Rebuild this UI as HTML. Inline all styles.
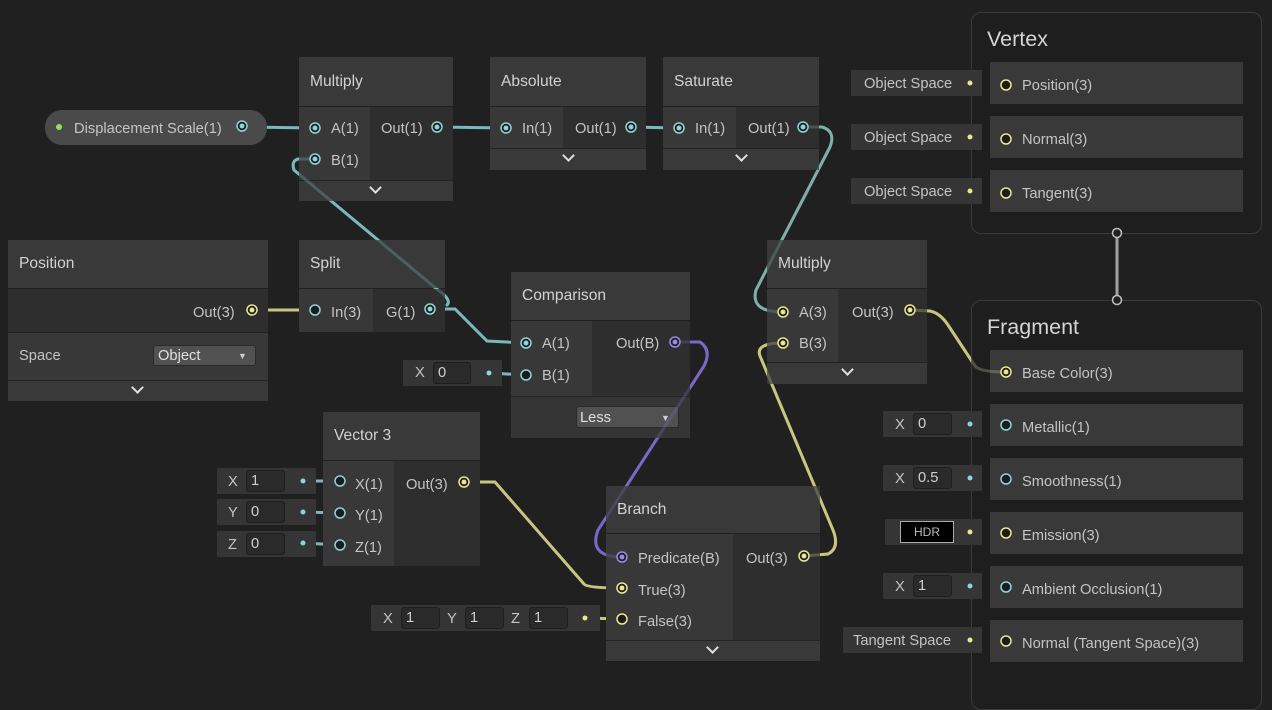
<!DOCTYPE html>
<html><head><meta charset="utf-8"><style>
*{box-sizing:border-box;margin:0;padding:0}
body{width:1272px;height:692px;background:#202020;overflow:hidden;position:relative;font-family:"Liberation Sans",sans-serif;font-size:14.7px;color:#c4c4c4}
.a{position:absolute}
.hd{position:absolute;background:#393939;font-size:15.6px;color:#d2d2d2;padding-left:11px;display:flex;align-items:center}
.in{position:absolute;background:#383838}
.out{position:absolute;background:#2e2e2e}
.ft{position:absolute;background:#393939;border-top:1px solid #232323}
.t{position:absolute;white-space:nowrap;margin-top:2px}
.chev{position:absolute;width:9px;height:9px;border-right:2px solid #e0e0e0;border-bottom:2px solid #e0e0e0;transform:rotate(45deg)}
.il{position:absolute;background:#353535}
.fld{position:absolute;background:#2a2a2a;border:1px solid #1e1e1e;border-radius:3px;padding-left:4px;line-height:21px;color:#d0d0d0}
.slot{position:absolute;background:#393939;left:990px;width:253px;height:42px}
.ctn{position:absolute;border:1px solid #3a3a3a;border-radius:10px;background:#1e1e1e}
</style></head><body>

<svg class="a" style="left:0;top:0" width="1272" height="692" fill="none" stroke-width="3" stroke-linecap="round">
<g stroke="#7ab8bc">
<path d="M242 127 L315 128"/>
<path d="M315 159 L298 159 Q291 161 294 170 L438 290 Q452 300 447 305"/>
<path d="M430 309 L455 309 L487 341 L526 343"/>
<path d="M437 127 L506 128"/>
<path d="M631 127 L679 128"/>
<path d="M489 373 L526 375"/>
<path d="M303 481 L340 481"/><path d="M303 512 L340 513"/><path d="M303 543 L340 545"/>
<path d="M970 424 L1006 425"/><path d="M970 478 L1006 479"/><path d="M970 586 L1006 587"/>
</g>
<path d="M803 127 L822 127 Q836 131 830 147 L756 290 Q750 312 783 312" stroke="#7fb0a8"/>
<g stroke="#c6c680">
<path d="M252 310 L315 310"/>
<path d="M464 482 L495 482 L584 584 Q587 588 622 588"/>
<path d="M585 618 L622 619"/>
<path d="M804 556 L828 554 Q840 548 833 530 L760 356 Q755 343 783 343"/>
<path d="M910 310 L930 311 Q940 313 948 325 L975 366 Q980 372 1006 372"/>
<path d="M970 83 L1006 85"/><path d="M970 137 L1006 139"/><path d="M970 191 L1006 193"/>
<path d="M970 532 L1006 533"/><path d="M970 640 L1006 641"/>
</g>
<path d="M675 342 L700 342 Q712 350 704 366 L598 530 Q588 557 622 557" stroke="#7b68c8"/>
<path d="M1117 233 L1117 300" stroke="#a0a0a0"/>
</svg>

<div class="a" style="left:45px;top:110px;width:222px;height:35px;border-radius:17px;background:#4a4a4a"></div>
<div class="t" style="left:74px;top:119px">Displacement Scale(1)</div>

<div class="hd" style="left:299px;top:57px;width:154px;height:49px">Multiply</div>
<div class="in" style="left:299px;top:107px;width:71px;height:73px"></div>
<div class="out" style="left:370px;top:107px;width:83px;height:73px"></div>
<div class="ft" style="left:299px;top:180px;width:154px;height:21px"></div>
<div class="chev" style="left:371px;top:183px"></div>
<div class="t" style="left:331px;top:119px">A(1)</div><div class="t" style="left:331px;top:151px">B(1)</div>
<div class="t" style="left:381px;top:119px">Out(1)</div>

<div class="hd" style="left:490px;top:57px;width:156px;height:49px">Absolute</div>
<div class="in" style="left:490px;top:107px;width:73px;height:41px"></div>
<div class="out" style="left:563px;top:107px;width:83px;height:41px"></div>
<div class="ft" style="left:490px;top:148px;width:156px;height:22px"></div>
<div class="chev" style="left:564px;top:151px"></div>
<div class="t" style="left:522px;top:119px">In(1)</div><div class="t" style="left:575px;top:119px">Out(1)</div>

<div class="hd" style="left:663px;top:57px;width:156px;height:49px">Saturate</div>
<div class="in" style="left:663px;top:107px;width:73px;height:41px"></div>
<div class="out" style="left:736px;top:107px;width:83px;height:41px"></div>
<div class="ft" style="left:663px;top:148px;width:156px;height:22px"></div>
<div class="chev" style="left:737px;top:151px"></div>
<div class="t" style="left:695px;top:119px">In(1)</div><div class="t" style="left:748px;top:119px">Out(1)</div>

<div class="hd" style="left:8px;top:240px;width:260px;height:48px">Position</div>
<div class="out" style="left:8px;top:289px;width:260px;height:43px"></div>
<div class="in" style="left:8px;top:333px;width:260px;height:47px"></div>
<div class="ft" style="left:8px;top:380px;width:260px;height:21px"></div>
<div class="chev" style="left:133px;top:383px"></div>
<div class="t" style="left:193px;top:303px">Out(3)</div>
<div class="t" style="left:19px;top:346px">Space</div>
<div class="a" style="left:153px;top:345px;width:103px;height:21px;background:#515151;border-radius:3px;border:1px solid #2a2a2a"></div>
<div class="t" style="left:158px;top:346px;color:#e0e0e0">Object</div>
<div class="t" style="left:238px;top:349px;font-size:9px;color:#ccc">▼</div>

<div class="hd" style="left:299px;top:240px;width:146px;height:48px">Split</div>
<div class="in" style="left:299px;top:289px;width:74px;height:43px"></div>
<div class="out" style="left:373px;top:289px;width:72px;height:43px"></div>
<div class="t" style="left:331px;top:303px">In(3)</div><div class="t" style="left:386px;top:303px">G(1)</div>

<div class="hd" style="left:511px;top:272px;width:179px;height:48px">Comparison</div>
<div class="in" style="left:511px;top:321px;width:81px;height:75px"></div>
<div class="out" style="left:592px;top:321px;width:98px;height:75px"></div>
<div class="ft" style="left:511px;top:396px;width:179px;height:42px;background:#353535"></div>
<div class="a" style="left:576px;top:406px;width:103px;height:22px;background:#515151;border-radius:3px;border:1px solid #2a2a2a"></div>
<div class="t" style="left:580px;top:408px;color:#e0e0e0">Less</div>
<div class="t" style="left:661px;top:411px;font-size:9px;color:#ccc">▼</div>
<div class="t" style="left:542px;top:334px">A(1)</div><div class="t" style="left:542px;top:366px">B(1)</div>
<div class="t" style="left:616px;top:334px">Out(B)</div>
<div class="il" style="left:403px;top:360px;width:99px;height:26px"></div>
<div class="t" style="left:415px;top:363px">X</div>
<div class="fld" style="left:433px;top:362px;width:38px;height:22px">0</div>

<div class="hd" style="left:323px;top:412px;width:157px;height:48px">Vector 3</div>
<div class="in" style="left:323px;top:461px;width:71px;height:105px"></div>
<div class="out" style="left:394px;top:461px;width:86px;height:105px"></div>
<div class="t" style="left:355px;top:475px">X(1)</div><div class="t" style="left:355px;top:506px">Y(1)</div><div class="t" style="left:355px;top:538px">Z(1)</div>
<div class="t" style="left:406px;top:475px">Out(3)</div>
<div class="il" style="left:217px;top:468px;width:99px;height:26px"></div>
<div class="il" style="left:217px;top:499px;width:99px;height:26px"></div>
<div class="il" style="left:217px;top:531px;width:99px;height:26px"></div>
<div class="t" style="left:228px;top:472px">X</div><div class="fld" style="left:246px;top:470px;width:39px;height:22px">1</div>
<div class="t" style="left:228px;top:503px">Y</div><div class="fld" style="left:246px;top:501px;width:39px;height:22px">0</div>
<div class="t" style="left:228px;top:535px">Z</div><div class="fld" style="left:246px;top:533px;width:39px;height:22px">0</div>

<div class="hd" style="left:606px;top:486px;width:214px;height:47px">Branch</div>
<div class="in" style="left:606px;top:534px;width:127px;height:106px"></div>
<div class="out" style="left:733px;top:534px;width:87px;height:106px"></div>
<div class="ft" style="left:606px;top:640px;width:214px;height:21px"></div>
<div class="chev" style="left:708px;top:643px"></div>
<div class="t" style="left:638px;top:549px">Predicate(B)</div>
<div class="t" style="left:638px;top:581px">True(3)</div>
<div class="t" style="left:638px;top:612px">False(3)</div>
<div class="t" style="left:746px;top:549px">Out(3)</div>
<div class="il" style="left:371px;top:605px;width:229px;height:26px"></div>
<div class="t" style="left:383px;top:609px">X</div><div class="fld" style="left:401px;top:607px;width:39px;height:22px">1</div>
<div class="t" style="left:447px;top:609px">Y</div><div class="fld" style="left:465px;top:607px;width:39px;height:22px">1</div>
<div class="t" style="left:511px;top:609px">Z</div><div class="fld" style="left:529px;top:607px;width:39px;height:22px">1</div>

<div class="hd" style="left:767px;top:240px;width:160px;height:48px">Multiply</div>
<div class="in" style="left:767px;top:289px;width:71px;height:73px"></div>
<div class="out" style="left:838px;top:289px;width:89px;height:73px"></div>
<div class="ft" style="left:767px;top:362px;width:160px;height:22px"></div>
<div class="chev" style="left:843px;top:365px"></div>
<div class="t" style="left:799px;top:303px">A(3)</div><div class="t" style="left:799px;top:334px">B(3)</div>
<div class="t" style="left:852px;top:303px">Out(3)</div>

<div class="ctn" style="left:971px;top:12px;width:291px;height:222px"></div>
<div class="t" style="left:987px;top:25px;font-size:21.5px;color:#d4d4d4">Vertex</div>
<div class="slot" style="top:62px"></div><div class="slot" style="top:116px"></div><div class="slot" style="top:170px"></div>
<div class="t" style="left:1022px;top:76px">Position(3)</div>
<div class="t" style="left:1022px;top:130px">Normal(3)</div>
<div class="t" style="left:1022px;top:184px">Tangent(3)</div>
<div class="il" style="left:851px;top:70px;width:131px;height:26px"></div>
<div class="il" style="left:851px;top:124px;width:131px;height:26px"></div>
<div class="il" style="left:851px;top:178px;width:131px;height:26px"></div>
<div class="t" style="left:864px;top:74px">Object Space</div>
<div class="t" style="left:864px;top:128px">Object Space</div>
<div class="t" style="left:864px;top:182px">Object Space</div>

<div class="ctn" style="left:971px;top:300px;width:291px;height:410px"></div>
<div class="t" style="left:987px;top:313px;font-size:21.5px;color:#d4d4d4">Fragment</div>
<div class="slot" style="top:350px"></div><div class="slot" style="top:404px"></div><div class="slot" style="top:458px"></div>
<div class="slot" style="top:512px"></div><div class="slot" style="top:566px"></div><div class="slot" style="top:620px"></div>
<div class="t" style="left:1022px;top:364px">Base Color(3)</div>
<div class="t" style="left:1022px;top:418px">Metallic(1)</div>
<div class="t" style="left:1022px;top:472px">Smoothness(1)</div>
<div class="t" style="left:1022px;top:526px">Emission(3)</div>
<div class="t" style="left:1022px;top:580px">Ambient Occlusion(1)</div>
<div class="t" style="left:1022px;top:634px">Normal (Tangent Space)(3)</div>
<div class="il" style="left:883px;top:411px;width:99px;height:26px"></div>
<div class="t" style="left:895px;top:415px">X</div><div class="fld" style="left:913px;top:413px;width:39px;height:22px">0</div>
<div class="il" style="left:883px;top:465px;width:99px;height:26px"></div>
<div class="t" style="left:895px;top:469px">X</div><div class="fld" style="left:913px;top:467px;width:39px;height:22px">0.5</div>
<div class="il" style="left:885px;top:519px;width:97px;height:26px"></div>
<div class="a" style="left:900px;top:521px;width:54px;height:22px;background:#000;border:1px solid #aaa;color:#bbb;font-size:12px;text-align:center;line-height:20px">HDR</div>
<div class="il" style="left:883px;top:573px;width:99px;height:26px"></div>
<div class="t" style="left:895px;top:577px">X</div><div class="fld" style="left:913px;top:575px;width:39px;height:22px">1</div>
<div class="il" style="left:843px;top:627px;width:139px;height:26px"></div>
<div class="t" style="left:853px;top:631px">Tangent Space</div>

<svg class="a" style="left:0;top:0" width="1272" height="692" stroke-width="1.5">
<g fill="none" stroke-width="3" stroke-linecap="round" opacity="0.3">
<path d="M315 159 L298 159 Q291 161 294 170 L438 290 Q452 300 447 305" stroke="#7ab8bc"/>
<path d="M803 127 L822 127 Q836 131 830 147 L756 290 Q750 312 783 312" stroke="#7fb0a8"/>
<path d="M675 342 L700 342 Q712 350 704 366 L598 530 Q588 557 622 557" stroke="#7b68c8"/>
<path d="M804 556 L828 554 Q840 548 833 530 L760 356 Q755 343 783 343" stroke="#c6c680"/>
<path d="M910 310 L930 311 Q940 313 948 325 L975 366 Q980 372 1006 372" stroke="#c6c680"/>
</g>
<circle cx="59" cy="127" r="3" fill="#9ad86a"/>
<g fill="#1c1c1c" stroke="#8fd4d8">
<circle cx="242" cy="126" r="5"/><circle cx="315" cy="128" r="5"/><circle cx="315" cy="159" r="5"/><circle cx="437" cy="127" r="5"/>
<circle cx="506" cy="128" r="5"/><circle cx="631" cy="127" r="5"/><circle cx="679" cy="128" r="5"/><circle cx="803" cy="127" r="5"/>
<circle cx="315" cy="310" r="5"/><circle cx="430" cy="309" r="5"/><circle cx="526" cy="343" r="5"/><circle cx="526" cy="375" r="5"/>
<circle cx="340" cy="481" r="5"/><circle cx="340" cy="513" r="5"/><circle cx="340" cy="545" r="5"/>
<circle cx="1006" cy="425" r="5"/><circle cx="1006" cy="479" r="5"/><circle cx="1006" cy="587" r="5"/>
</g>
<g fill="#8fd4d8"><circle cx="242" cy="126" r="2.5"/><circle cx="315" cy="128" r="2.5"/><circle cx="315" cy="159" r="2.5"/><circle cx="437" cy="127" r="2.5"/><circle cx="506" cy="128" r="2.5"/><circle cx="631" cy="127" r="2.5"/><circle cx="679" cy="128" r="2.5"/><circle cx="803" cy="127" r="2.5"/><circle cx="430" cy="309" r="2.5"/><circle cx="526" cy="343" r="2.5"/>
<circle cx="489" cy="373" r="2.5"/><circle cx="303" cy="481" r="2.5"/><circle cx="303" cy="512" r="2.5"/><circle cx="303" cy="543" r="2.5"/><circle cx="970" cy="424" r="2.5"/><circle cx="970" cy="478" r="2.5"/><circle cx="970" cy="586" r="2.5"/></g>
<g fill="#1c1c1c" stroke="#e8e890">
<circle cx="252" cy="310" r="5"/><circle cx="464" cy="482" r="5"/><circle cx="622" cy="588" r="5"/><circle cx="622" cy="619" r="5"/>
<circle cx="804" cy="556" r="5"/><circle cx="783" cy="312" r="5"/><circle cx="783" cy="343" r="5"/><circle cx="910" cy="310" r="5"/>
<circle cx="1006" cy="85" r="5"/><circle cx="1006" cy="139" r="5"/><circle cx="1006" cy="193" r="5"/>
<circle cx="1006" cy="372" r="5"/><circle cx="1006" cy="533" r="5"/><circle cx="1006" cy="641" r="5"/>
</g>
<g fill="#e8e890"><circle cx="252" cy="310" r="2.5"/><circle cx="464" cy="482" r="2.5"/><circle cx="622" cy="588" r="2.5"/><circle cx="804" cy="556" r="2.5"/><circle cx="783" cy="312" r="2.5"/><circle cx="783" cy="343" r="2.5"/><circle cx="910" cy="310" r="2.5"/><circle cx="1006" cy="372" r="2.5"/>
<circle cx="585" cy="618" r="2.5"/><circle cx="970" cy="83" r="2.5"/><circle cx="970" cy="137" r="2.5"/><circle cx="970" cy="191" r="2.5"/><circle cx="970" cy="532" r="2.5"/><circle cx="970" cy="640" r="2.5"/></g>
<g fill="#1c1c1c" stroke="#9a88e8"><circle cx="675" cy="342" r="5"/><circle cx="622" cy="557" r="5"/></g>
<g fill="#9a88e8"><circle cx="675" cy="342" r="2.5"/><circle cx="622" cy="557" r="2.5"/></g>
<g fill="#202020" stroke="#c0c0c0"><circle cx="1117" cy="233" r="4.5"/><circle cx="1117" cy="300" r="4.5"/></g>
</svg>
</body></html>
